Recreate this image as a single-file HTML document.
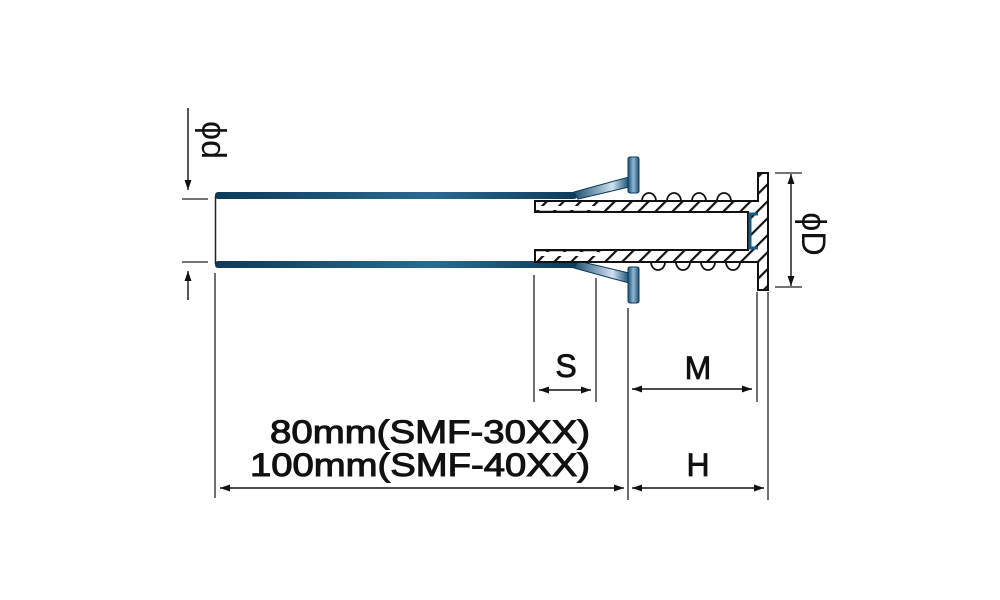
<!DOCTYPE html>
<html><head><meta charset="utf-8"><style>
html,body{margin:0;padding:0;background:#fff;width:1000px;height:600px;overflow:hidden}
text{font-family:"Liberation Sans",sans-serif;fill:#111}
</style></head><body>
<svg width="1000" height="600" viewBox="0 0 1000 600" xmlns="http://www.w3.org/2000/svg">
<defs>
<linearGradient id="bh" x1="0" y1="0" x2="1" y2="0">
<stop offset="0" stop-color="#0d3a5a"/><stop offset="0.6" stop-color="#2a6a92"/><stop offset="1" stop-color="#0d3a5a"/>
</linearGradient>
<linearGradient id="bv" x1="0" y1="0" x2="1" y2="0">
<stop offset="0" stop-color="#1a4f72"/><stop offset="0.5" stop-color="#8fb8d4"/><stop offset="1" stop-color="#1a4f72"/>
</linearGradient>
<linearGradient id="bc" x1="0" y1="0" x2="1" y2="0">
<stop offset="0" stop-color="#1a4f72"/><stop offset="0.7" stop-color="#cfe1ee"/><stop offset="1" stop-color="#1a4f72"/>
</linearGradient>
<pattern id="hat" patternUnits="userSpaceOnUse" width="12" height="12" patternTransform="rotate(45)">
<rect width="12" height="12" fill="#fff"/><rect x="0" y="0" width="2.2" height="12" fill="#111"/>
</pattern>
<marker id="a" viewBox="0 0 10 10" refX="10" refY="5" markerWidth="10" markerHeight="10" orient="auto-start-reverse" markerUnits="userSpaceOnUse">
<path d="M0,1.5 L10,5 L0,8.5 z" fill="#111"/></marker>
</defs>

<rect x="215" y="192" width="362" height="7" rx="3" fill="url(#bh)"/>
<rect x="215" y="261" width="362" height="7" rx="3" fill="url(#bh)"/>
<line x1="215.5" y1="196" x2="215.5" y2="264" stroke="#222" stroke-width="1.5"/>
<polygon points="574,192 629,177 629,187 578,199" fill="url(#bc)" stroke="#0d3a5a" stroke-width="1"/>
<polygon points="574,268 629,283 629,273 578,261" fill="url(#bc)" stroke="#0d3a5a" stroke-width="1"/>
<rect x="628" y="157" width="11" height="36" rx="2" fill="url(#bv)" stroke="#0d3a5a"/>
<rect x="628" y="267" width="11" height="36" rx="2" fill="url(#bv)" stroke="#0d3a5a"/>

<g fill="none" stroke="#111" stroke-width="1.8">
<path d="M642,201 a7,8 0 0 1 14,0 M667,201 a7,8 0 0 1 14,0 M692,201 a7,8 0 0 1 14,0 M717,201 a7,8 0 0 1 14,0"/>
<path d="M651,262 a7,8 0 0 0 14,0 M676,262 a7,8 0 0 0 14,0 M701,262 a7,8 0 0 0 14,0 M726,262 a7,8 0 0 0 14,0"/>
</g>

<path d="M535,201 L758,201 L758,173 L768,173 L768,290 L758,290 L758,262 L535,262 L535,250 L748,250 L748,212 L535,212 Z" fill="url(#hat)" stroke="#111" stroke-width="2"/>
<rect x="537" y="206" width="62" height="4" fill="#fff"/>
<rect x="537" y="252" width="62" height="4" fill="#fff"/>
<line x1="535" y1="211.5" x2="600" y2="211.5" stroke="#111" stroke-width="1.6"/>
<line x1="535" y1="250.5" x2="600" y2="250.5" stroke="#111" stroke-width="1.6"/>
<path d="M758,214 L750,214 L750,248 L758,248" fill="none" stroke="#1a5a84" stroke-width="3"/>

<g stroke="#222" stroke-width="1.3">
<line x1="215" y1="273" x2="215" y2="498"/>
<line x1="534" y1="275" x2="534" y2="402"/>
<line x1="596" y1="278" x2="596" y2="402"/>
<line x1="628" y1="308" x2="628" y2="500"/>
<line x1="757" y1="292" x2="757" y2="402"/>
<line x1="768" y1="292" x2="768" y2="500"/>
<line x1="182" y1="199" x2="208" y2="199"/>
<line x1="182" y1="262" x2="208" y2="262"/>
<line x1="775" y1="173" x2="802" y2="173"/>
<line x1="775" y1="287" x2="802" y2="287"/>
</g>
<g stroke="#111" stroke-width="1.4">
<line x1="188" y1="108" x2="188" y2="190" marker-end="url(#a)"/>
<line x1="188" y1="300" x2="188" y2="271" marker-end="url(#a)"/>
<line x1="791" y1="174" x2="791" y2="286" marker-start="url(#a)" marker-end="url(#a)"/>
<line x1="539" y1="390" x2="591" y2="390" marker-start="url(#a)" marker-end="url(#a)"/>
<line x1="632" y1="389" x2="752" y2="389" marker-start="url(#a)" marker-end="url(#a)"/>
<line x1="220" y1="488" x2="624" y2="488" marker-start="url(#a)" marker-end="url(#a)"/>
<line x1="632" y1="488" x2="764" y2="488" marker-start="url(#a)" marker-end="url(#a)"/>
</g>

<g stroke="#111" stroke-width="0.8">
<text x="566" y="377" font-size="32" text-anchor="middle">S</text>
<text x="698" y="379" font-size="32" text-anchor="middle">M</text>
<text x="698" y="476" font-size="32" text-anchor="middle">H</text>
<text x="270" y="443" font-size="32" textLength="320" lengthAdjust="spacingAndGlyphs" stroke-width="1">80mm(SMF-30XX)</text>
<text x="250" y="476" font-size="32" textLength="340" lengthAdjust="spacingAndGlyphs" stroke-width="1">100mm(SMF-40XX)</text>
</g>
<text transform="translate(202,140) rotate(90)" font-size="34" text-anchor="middle">ϕd</text>
<text transform="translate(802,234) rotate(90)" font-size="34" text-anchor="middle">ϕD</text>
</svg>
</body></html>
